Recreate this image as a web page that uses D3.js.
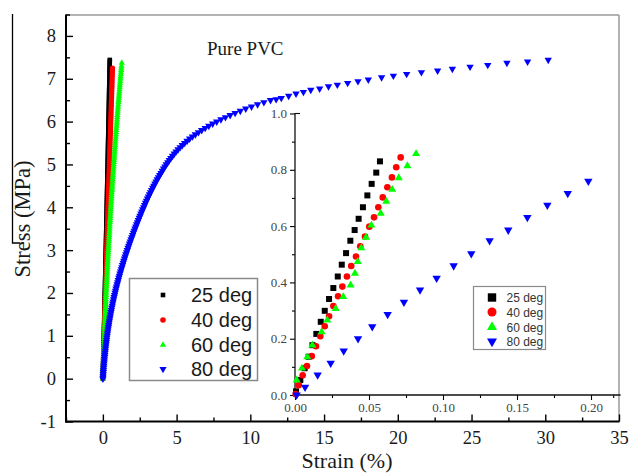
<!DOCTYPE html>
<html>
<head>
<meta charset="utf-8">
<script src="https://cdn.jsdelivr.net/npm/d3@7"></script>
<style>
  body { margin: 0; background: #fff; }
  svg { display: block; }
</style>
</head>
<body>
<svg id="chart" width="629" height="473"></svg>
<script>
// ---- Series names and colours ----
const seriesNames = ["25 deg", "40 deg", "60 deg", "80 deg"];
const seriesColors = ["#000000", "#ff0000", "#00ff00", "#0000ff"];

// ---- Main plot: stress levels (MPa) at which strain was logged ----
const stressLevels = [
  0,0.05,0.1,0.15,0.2,0.25,0.3,0.35,0.4,0.45,
  0.5,0.55,0.6,0.65,0.7,0.75,0.8,0.85,0.9,0.95,
  1.0,1.05,1.1,1.15,1.2,1.25,1.3,1.35,1.4,1.45,
  1.5,1.55,1.6,1.65,1.7,1.75,1.8,1.85,1.9,1.95,
  2.0,2.05,2.1,2.15,2.2,2.25,2.3,2.35,2.4,2.45,
  2.5,2.55,2.6,2.65,2.7,2.75,2.8,2.85,2.9,2.95,
  3.0,3.05,3.1,3.15,3.2,3.25,3.3,3.35,3.4,3.45,
  3.5,3.55,3.6,3.65,3.7,3.75,3.8,3.85,3.9,3.95,
  4.0,4.05,4.1,4.15,4.2,4.25,4.3,4.35,4.4,4.45,
  4.5,4.55,4.6,4.65,4.7,4.75,4.8,4.85,4.9,4.95,
  5.0,5.05,5.1,5.15,5.2,5.25,5.3,5.35,5.4,5.45,
  5.5,5.55,5.6,5.65,5.7,5.75,5.8,5.85,5.9,5.95,
  6.0,6.05,6.1,6.15,6.2,6.25,6.3,6.35,6.4,6.45,
  6.5,6.55,6.6,6.65,6.7,6.75,6.8,6.85,6.9,6.95,
  7.0,7.05,7.1,7.15,7.2,7.25,7.3,7.35,7.4];

// strain (%) at each stress level, per test
const strain25 = [
  0,0.003,0.007,0.010,0.014,0.017,0.021,0.024,0.028,0.031,
  0.034,0.038,0.041,0.045,0.048,0.051,0.055,0.058,0.062,0.065,
  0.068,0.072,0.075,0.078,0.082,0.085,0.088,0.092,0.095,0.098,
  0.102,0.105,0.108,0.112,0.115,0.118,0.122,0.125,0.128,0.131,
  0.135,0.138,0.141,0.145,0.148,0.151,0.154,0.158,0.161,0.164,
  0.168,0.171,0.174,0.177,0.180,0.184,0.187,0.190,0.193,0.197,
  0.200,0.203,0.206,0.209,0.213,0.216,0.219,0.222,0.225,0.229,
  0.232,0.235,0.238,0.241,0.244,0.248,0.251,0.254,0.257,0.260,
  0.263,0.266,0.269,0.273,0.276,0.279,0.282,0.285,0.288,0.291,
  0.294,0.297,0.300,0.304,0.307,0.310,0.313,0.316,0.319,0.322,
  0.325,0.328,0.331,0.334,0.337,0.340,0.343,0.346,0.349,0.352,
  0.355,0.358,0.361,0.364,0.367,0.370,0.373,0.376,0.379,0.382,
  0.385,0.388,0.391,0.394,0.397,0.400,0.403,0.406,0.409,0.412,
  0.415,0.418,0.421,0.423,0.426,0.429,0.432,0.435,0.438,0.441,
  0.444,0.447,0.450,0.452,0.455,0.458,0.461,0.464,0.467];
const peak25 = [0.470, 7.44];

const strain40 = [
  0,0.004,0.009,0.013,0.017,0.021,0.026,0.030,0.034,0.038,
  0.043,0.047,0.051,0.056,0.060,0.064,0.068,0.073,0.077,0.081,
  0.086,0.090,0.094,0.099,0.103,0.107,0.112,0.116,0.120,0.125,
  0.129,0.133,0.138,0.142,0.147,0.151,0.155,0.160,0.164,0.168,
  0.173,0.177,0.182,0.186,0.190,0.195,0.199,0.203,0.208,0.212,
  0.217,0.221,0.226,0.230,0.235,0.239,0.243,0.248,0.252,0.257,
  0.261,0.265,0.270,0.274,0.279,0.283,0.288,0.292,0.297,0.301,
  0.306,0.310,0.315,0.319,0.324,0.328,0.333,0.337,0.342,0.346,
  0.351,0.355,0.360,0.364,0.369,0.373,0.378,0.383,0.388,0.392,
  0.397,0.401,0.406,0.410,0.415,0.419,0.424,0.428,0.433,0.438,
  0.443,0.447,0.452,0.456,0.461,0.465,0.470,0.474,0.479,0.484,
  0.489,0.493,0.498,0.502,0.507,0.512,0.517,0.521,0.526,0.530,
  0.535,0.540,0.545,0.549,0.554,0.558,0.563,0.568,0.573,0.577,
  0.582,0.586,0.591,0.596,0.601,0.605,0.610,0.615,0.620,0.624,
  0.629,0.634,0.639,0.643,0.648];
const peak40 = [0.653, 7.25];

const strain60 = [
  0,0.005,0.009,0.014,0.019,0.023,0.028,0.033,0.038,0.043,
  0.048,0.053,0.058,0.063,0.069,0.074,0.079,0.084,0.090,0.095,
  0.101,0.107,0.113,0.118,0.124,0.130,0.136,0.142,0.148,0.154,
  0.161,0.167,0.173,0.179,0.186,0.192,0.199,0.205,0.212,0.219,
  0.226,0.232,0.239,0.246,0.253,0.260,0.267,0.274,0.282,0.289,
  0.296,0.303,0.311,0.318,0.326,0.333,0.341,0.349,0.357,0.365,
  0.373,0.381,0.389,0.397,0.405,0.413,0.421,0.429,0.438,0.446,
  0.455,0.463,0.472,0.480,0.489,0.498,0.507,0.515,0.524,0.533,
  0.542,0.551,0.561,0.570,0.579,0.588,0.598,0.607,0.617,0.626,
  0.636,0.645,0.655,0.665,0.675,0.685,0.695,0.705,0.715,0.725,
  0.735,0.745,0.756,0.766,0.776,0.786,0.797,0.807,0.818,0.829,
  0.840,0.851,0.862,0.872,0.883,0.894,0.905,0.916,0.928,0.939,
  0.950,0.961,0.973,0.984,0.996,1.007,1.019,1.031,1.043,1.055,
  1.067,1.079,1.091,1.103,1.115,1.127,1.139,1.151,1.164,1.176,
  1.189,1.201,1.214,1.226,1.239,1.252,1.265];
const peak60 = [1.282, 7.37];

const strain80 = [
  0,0.010,0.021,0.032,0.043,0.055,0.067,0.080,0.093,0.106,
  0.120,0.134,0.149,0.165,0.181,0.198,0.215,0.233,0.251,0.270,
  0.290,0.310,0.331,0.353,0.375,0.398,0.422,0.446,0.471,0.497,
  0.523,0.550,0.577,0.606,0.635,0.665,0.695,0.727,0.759,0.792,
  0.825,0.860,0.895,0.931,0.967,1.005,1.043,1.083,1.123,1.164,
  1.205,1.247,1.290,1.334,1.379,1.424,1.470,1.516,1.563,1.611,
  1.660,1.709,1.759,1.810,1.861,1.913,1.965,2.018,2.071,2.125,
  2.180,2.236,2.292,2.349,2.406,2.465,2.524,2.584,2.644,2.706,
  2.768,2.831,2.895,2.961,3.028,3.096,3.165,3.236,3.308,3.381,
  3.455,3.531,3.609,3.689,3.771,3.855,3.941,4.029,4.119,4.211,
  4.305,4.403,4.505,4.612,4.725,4.844,4.968,5.101,5.240,5.389,
  5.544,5.710,5.886,6.074,6.272,6.482,6.703,6.938,7.185,7.446,
  7.719,8.007,8.311,8.631,8.967,9.319,9.689,10.079,10.489,10.919,
  11.369];
// 80 deg beyond 6.5 MPa: points spread out and are read one by one
const tailStrain80 = [11.75,12.1,12.6,13.1,13.6,14.1,14.7,15.3,15.9,16.6,17.3,18.0,18.9,19.7,20.6,21.6,22.7,23.7,24.9,26.1,27.4,28.8,30.2];
const tailStress80 = [6.52,6.55,6.60,6.65,6.69,6.74,6.77,6.82,6.86,6.90,6.94,6.98,7.03,7.07,7.11,7.15,7.19,7.23,7.28,7.32,7.37,7.40,7.44];

// ---- Inset: early part of each test ----
const insetStrain25 = [0.0007,0.0036,0.0065,0.0092,0.0118,0.0144,0.0174,0.0201,0.0230,0.0259,0.0289,0.0316,0.0345,0.0374,0.0403,0.0430,0.0459,0.0489,0.0518,0.0549,0.0574];
const insetStress25 = [0.013,0.053,0.095,0.136,0.177,0.217,0.260,0.299,0.341,0.380,0.421,0.463,0.504,0.548,0.586,0.626,0.667,0.709,0.750,0.790,0.830];

const insetStrain40 = [0.0005,0.0025,0.0052,0.0081,0.0113,0.0142,0.0171,0.0201,0.0230,0.0259,0.0291,0.0320,0.0351,0.0380,0.0412,0.0441,0.0473,0.0502,0.0534,0.0563,0.0593,0.0624,0.0655,0.0684,0.0714];
const insetStress40 = [0.003,0.035,0.070,0.103,0.138,0.173,0.209,0.244,0.280,0.316,0.351,0.385,0.421,0.458,0.492,0.528,0.563,0.598,0.631,0.667,0.702,0.738,0.773,0.809,0.844];

const insetStrain60 = [0.0011,0.0047,0.0083,0.0117,0.0180,0.0218,0.0275,0.0326,0.0376,0.0405,0.0424,0.0448,0.0480,0.0516,0.0579,0.0617,0.0657,0.0701,0.0759,0.0818];
const insetStress60 = [0.053,0.095,0.135,0.177,0.224,0.266,0.307,0.349,0.390,0.432,0.474,0.522,0.560,0.603,0.645,0.688,0.730,0.771,0.814,0.857];

const insetStrain80 = [0.0011,0.0068,0.0153,0.0241,0.0329,0.0426,0.0522,0.0626,0.0736,0.0845,0.0957,0.1072,0.1191,0.1315,0.1441,0.1570,0.1705,0.1843,0.1982];
const insetStress80 = [0.0,0.028,0.071,0.113,0.157,0.200,0.243,0.286,0.330,0.373,0.415,0.459,0.502,0.548,0.586,0.631,0.674,0.716,0.760];

// ---- Axis ticks ----
const mainXTicks = [0, 5, 10, 15, 20, 25, 30, 35];
const mainXMinor = [-2.5, 2.5, 7.5, 12.5, 17.5, 22.5, 27.5, 32.5];
const mainYTicks = [-1, 0, 1, 2, 3, 4, 5, 6, 7, 8];
const mainYMinor = [-0.5, 0.5, 1.5, 2.5, 3.5, 4.5, 5.5, 6.5, 7.5, 8.5];
const insetXTicks = [0, 0.05, 0.10, 0.15, 0.20];
const insetXMinor = [0.025, 0.075, 0.125, 0.175, 0.215];
const insetYTicks = [0, 0.2, 0.4, 0.6, 0.8, 1.0];
const insetYMinor = [0.1, 0.3, 0.5, 0.7, 0.9];

const svg = d3.select("#chart");
const serif = "'Liberation Serif','Times New Roman',Times,serif";
const sans = "'Liberation Sans',Arial,Helvetica,sans-serif";

// ---- Marker shapes ----
const shapes = [
  { type: d3.symbolSquare, rot: 0 },
  { type: d3.symbolCircle, rot: 0 },
  { type: d3.symbolTriangle, rot: 0 },
  { type: d3.symbolTriangle, rot: 180 }
];
// symbol area from the wanted pixel width
const areaFor = (i, w) => {
  if (i === 0) return w * w;
  if (i === 1) return Math.PI * w * w / 4;
  return Math.sqrt(3) / 4 * w * w;
};
function markerPath(i, w) {
  return d3.symbol().type(shapes[i].type).size(areaFor(i, w))();
}

// pair up strain/stress arrays into points
function zipPoints(xs, ys) {
  return xs.map((v, k) => [v, ys[k]]);
}

// ---- Main scales ----
const x = d3.scaleLinear().domain([-2.5, 35]).range([66, 619]);
const y = d3.scaleLinear().domain([-1, 8.5]).range([421.5, 14.5]);

// frame (top and right in grey)
svg.append("line").attr("x1", 66).attr("x2", 619).attr("y1", 15).attr("y2", 15)
  .attr("stroke", "#9a9a9a").attr("stroke-width", 1.5);
svg.append("line").attr("x1", 619).attr("x2", 619).attr("y1", 15).attr("y2", 421)
  .attr("stroke", "#9a9a9a").attr("stroke-width", 1.5);

function styleAxis(g, fontSize, family, color) {
  g.select(".domain").remove();
  g.selectAll(".tick line").attr("stroke", "#000").attr("stroke-width", 1.4);
  g.selectAll(".tick text").attr("font-family", family).attr("font-size", fontSize).attr("fill", color);
}

// main left axis
const gy = svg.append("g").attr("transform", `translate(${x(-2.5)},0)`)
  .call(d3.axisLeft(y).tickValues(mainYTicks).tickSize(-7).tickSizeOuter(0).tickPadding(10).tickFormat(d => String(d)));
styleAxis(gy, 18.5, serif, "#1a1a1a");
const gyMinor = svg.append("g").attr("transform", `translate(${x(-2.5)},0)`)
  .call(d3.axisLeft(y).tickValues(mainYMinor).tickSize(-4).tickSizeOuter(0).tickFormat(""));
styleAxis(gyMinor, 0, serif, "#000");
svg.append("line").attr("x1", x(-2.5)).attr("x2", x(-2.5)).attr("y1", 14.5).attr("y2", 422.5)
  .attr("stroke", "#000").attr("stroke-width", 2);

// main bottom axis
const gx = svg.append("g").attr("transform", `translate(0,${y(-1)})`)
  .call(d3.axisBottom(x).tickValues(mainXTicks).tickSize(-7).tickSizeOuter(0).tickPadding(9).tickFormat(d => String(d)));
styleAxis(gx, 18.5, serif, "#1a1a1a");
const gxMinor = svg.append("g").attr("transform", `translate(0,${y(-1)})`)
  .call(d3.axisBottom(x).tickValues(mainXMinor).tickSize(-4).tickSizeOuter(0).tickFormat(""));
styleAxis(gxMinor, 0, serif, "#000");
svg.append("line").attr("x1", 65).attr("x2", 619.5).attr("y1", y(-1)).attr("y2", y(-1))
  .attr("stroke", "#000").attr("stroke-width", 2);

// axis titles
svg.append("text").attr("x", 347).attr("y", 467.5).attr("text-anchor", "middle")
  .attr("font-family", serif).attr("font-size", 22).attr("fill", "#1a1a1a").text("Strain (%)");
svg.append("text").attr("transform", "translate(30,219) rotate(-90)").attr("text-anchor", "middle")
  .attr("font-family", serif).attr("font-size", 22.5).attr("fill", "#1a1a1a").text("Stress (MPa)");

// thin rule at the far left edge
svg.append("path").attr("d", "M12.5,14 V243 H20").attr("fill", "none")
  .attr("stroke", "#000").attr("stroke-width", 1.3);

// ---- Main data ----
const mainSeries = [
  { pts: zipPoints(strain25, stressLevels).concat([peak25]), w: 4.6 },
  { pts: zipPoints(strain40, stressLevels).concat([peak40]), w: 5.2 },
  { pts: zipPoints(strain60, stressLevels).concat([peak60]), w: 6.2 },
  { pts: zipPoints(strain80, stressLevels).concat(zipPoints(tailStrain80, tailStress80)), w: 7.4 }
];
mainSeries.forEach((s, i) => {
  svg.append("g").selectAll("path").data(s.pts).join("path")
    .attr("d", markerPath(i, s.w))
    .attr("transform", d => `translate(${x(d[0])},${y(d[1])}) rotate(${shapes[i].rot})`)
    .attr("fill", seriesColors[i]);
});

// title
svg.append("text").attr("x", 207).attr("y", 55).attr("font-family", serif)
  .attr("font-size", 19).attr("fill", "#1a1a1a").text("Pure PVC");

// ---- Main legend ----
svg.append("rect").attr("x", 129.5).attr("y", 278.5).attr("width", 128).attr("height", 102)
  .attr("fill", "#fff").attr("stroke", "#8a8a8a").attr("stroke-width", 1.5);
const legRows = [295, 320, 345, 369];
const legW = [4.6, 5.6, 6.4, 7.2];
const legend = svg.append("g").selectAll("g").data(seriesNames).join("g")
  .attr("transform", (d, i) => `translate(163,${legRows[i]})`);
legend.append("path").attr("d", (d, i) => markerPath(i, legW[i]))
  .attr("transform", (d, i) => `rotate(${shapes[i].rot})`)
  .attr("fill", (d, i) => seriesColors[i]);
legend.append("text").attr("x", 28).attr("y", 7).attr("font-family", sans)
  .attr("font-size", 20).attr("fill", "#1a1a1a").text(d => d);

// ---- Inset ----
const ix = d3.scaleLinear().domain([0, 0.22]).range([295, 620.6]);
const iy = d3.scaleLinear().domain([0, 1]).range([395, 113.5]);

const igy = svg.append("g").attr("transform", "translate(295,0)")
  .call(d3.axisLeft(iy).tickValues(insetYTicks).tickSize(5).tickSizeOuter(0).tickPadding(3).tickFormat(d3.format(".1f")));
styleAxis(igy, 13, serif, "#444");
igy.selectAll(".tick line").attr("stroke-width", 1.1);
const igyMinor = svg.append("g").attr("transform", "translate(295,0)")
  .call(d3.axisLeft(iy).tickValues(insetYMinor).tickSize(3).tickSizeOuter(0).tickFormat(""));
styleAxis(igyMinor, 0, serif, "#000");
igyMinor.selectAll(".tick line").attr("stroke-width", 1.1);
svg.append("line").attr("x1", 295).attr("x2", 295).attr("y1", 113).attr("y2", 395.5)
  .attr("stroke", "#111").attr("stroke-width", 1.3);
svg.append("line").attr("x1", 295).attr("x2", 300).attr("y1", 113.5).attr("y2", 113.5)
  .attr("stroke", "#111").attr("stroke-width", 1.1);

const igx = svg.append("g").attr("transform", "translate(0,395)")
  .call(d3.axisBottom(ix).tickValues(insetXTicks).tickSize(5).tickSizeOuter(0).tickPadding(3).tickFormat(d3.format(".2f")));
styleAxis(igx, 13, serif, "#444");
igx.selectAll(".tick line").attr("stroke-width", 1.1);
const igxMinor = svg.append("g").attr("transform", "translate(0,395)")
  .call(d3.axisBottom(ix).tickValues(insetXMinor).tickSize(3).tickSizeOuter(0).tickFormat(""));
styleAxis(igxMinor, 0, serif, "#000");
igxMinor.selectAll(".tick line").attr("stroke-width", 1.1);
svg.append("line").attr("x1", 294.5).attr("x2", 620.6).attr("y1", 395).attr("y2", 395)
  .attr("stroke", "#111").attr("stroke-width", 1.3);

const insetSeries = [
  { pts: zipPoints(insetStrain25, insetStress25), w: 6 },
  { pts: zipPoints(insetStrain40, insetStress40), w: 6.6 },
  { pts: zipPoints(insetStrain60, insetStress60), w: 8 },
  { pts: zipPoints(insetStrain80, insetStress80), w: 8.4 }
];
insetSeries.forEach((s, i) => {
  svg.append("g").selectAll("path").data(s.pts).join("path")
    .attr("d", markerPath(i, s.w))
    .attr("transform", d => `translate(${ix(d[0])},${iy(d[1])}) rotate(${shapes[i].rot})`)
    .attr("fill", seriesColors[i]);
});

// inset legend
svg.append("rect").attr("x", 473.5).attr("y", 286.5).attr("width", 72).attr("height", 63)
  .attr("fill", "#fff").attr("stroke", "#8a8a8a").attr("stroke-width", 1.2);
const iRows = [297.5, 312, 327, 341.5];
const iW = [8.4, 9, 10, 10];
const ileg = svg.append("g").selectAll("g").data(seriesNames).join("g")
  .attr("transform", (d, i) => `translate(492,${iRows[i]})`);
ileg.append("path").attr("d", (d, i) => markerPath(i, iW[i]))
  .attr("transform", (d, i) => `rotate(${shapes[i].rot})`)
  .attr("fill", (d, i) => seriesColors[i]);
ileg.append("text").attr("x", 14.5).attr("y", 4.5).attr("font-family", sans)
  .attr("font-size", 12).attr("fill", "#333").text(d => d);
</script>
</body>
</html>
